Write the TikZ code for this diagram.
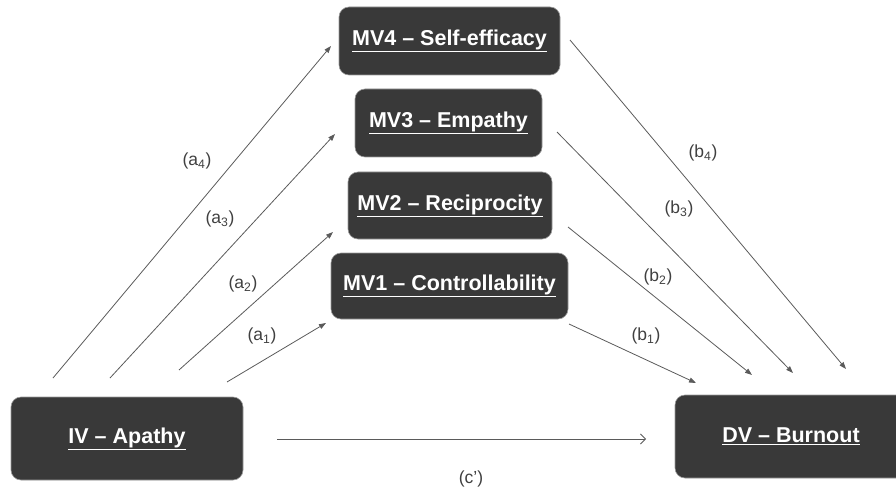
\documentclass[tikz,border=0pt]{standalone}
\usepackage{fontspec}
\setmainfont{Liberation Sans}
\usetikzlibrary{arrows.meta}
\definecolor{boxfill}{HTML}{393939}
\definecolor{boxedge}{HTML}{9A9A9A}
\definecolor{linecol}{HTML}{5A5A5A}
\definecolor{labcol}{HTML}{404040}
\tikzset{
  varbox/.style={draw=boxedge, line width=0.6pt, fill=boxfill, rounded corners=10pt,
    text=white, font=\fontsize{21.5}{25}\selectfont\bfseries, inner sep=0pt},
  patharrow/.style={draw=linecol, line width=0.8pt, -{Triangle[length=7pt,width=5pt]}},
  directarrow/.style={draw=linecol, line width=0.8pt, -{Straight Barb[length=5pt,width=10pt]}},
  pathlabel/.style={text=labcol, font=\fontsize{17.5}{20}\selectfont, inner sep=0pt}
}
\newcommand{\ul}[1]{\underline{#1}}
\newcommand{\sbs}[1]{\textsubscript{#1}}
\begin{document}
\begin{tikzpicture}[x=1pt,y=-1pt]
\useasboundingbox (0,0) rectangle (896,489);
\clip (0,0) rectangle (896,489);
% boxes
\node[varbox, minimum width=221pt, minimum height=68pt] (mv4) at (449.5,41) {\ul{MV4 – Self-efficacy}};
\node[varbox, minimum width=187pt, minimum height=68pt] (mv3) at (448.5,123) {\ul{MV3 – Empathy}};
\node[varbox, minimum width=204pt, minimum height=67pt] (mv2) at (450,205.5) {\ul{MV2 – Reciprocity}};
\node[varbox, minimum width=237pt, minimum height=66pt] (mv1) at (449.5,286) {\ul{MV1 – Controllability}};
\node[varbox, minimum width=232pt, minimum height=83pt] (iv) at (127,438.5) {\ul{IV – Apathy}};
\node[varbox, minimum width=232pt, minimum height=83pt] (dv) at (791,436.5) {\ul{DV – Burnout}};
% free ends
\coordinate (a4s) at (53,378);  \coordinate (a4e) at (331,46);
\coordinate (a3s) at (110,378); \coordinate (a3e) at (335,134);
\coordinate (a2s) at (179,370); \coordinate (a2e) at (333,232);
\coordinate (a1s) at (227,382); \coordinate (a1e) at (326,323);
\coordinate (b4s) at (570,40);  \coordinate (b4e) at (846,369);
\coordinate (b3s) at (557,132); \coordinate (b3e) at (793,373);
\coordinate (b2s) at (568,227); \coordinate (b2e) at (752,375);
\coordinate (b1s) at (569,324); \coordinate (b1e) at (696,383);
\coordinate (cs) at (277,439);  \coordinate (ce) at (646,439);
% arrows
\draw[patharrow] (a4s) -- (a4e);
\draw[patharrow] (a3s) -- (a3e);
\draw[patharrow] (a2s) -- (a2e);
\draw[patharrow] (a1s) -- (a1e);
\draw[patharrow] (b4s) -- (b4e);
\draw[patharrow] (b3s) -- (b3e);
\draw[patharrow] (b2s) -- (b2e);
\draw[patharrow] (b1s) -- (b1e);
\draw[directarrow] (cs) -- (ce);
% labels
\node[pathlabel] (la4) at (197,161) {(a\sbs{4})};
\node[pathlabel] (la3) at (220,219) {(a\sbs{3})};
\node[pathlabel] (la2) at (243,284) {(a\sbs{2})};
\node[pathlabel] (la1) at (262,336) {(a\sbs{1})};
\node[pathlabel] (lb4) at (703,153) {(b\sbs{4})};
\node[pathlabel] (lb3) at (679,209) {(b\sbs{3})};
\node[pathlabel] (lb2) at (658,277) {(b\sbs{2})};
\node[pathlabel] (lb1) at (646,336) {(b\sbs{1})};
\node[pathlabel] (lc) at (471,479) {(c’)};
\end{tikzpicture}
\end{document}
